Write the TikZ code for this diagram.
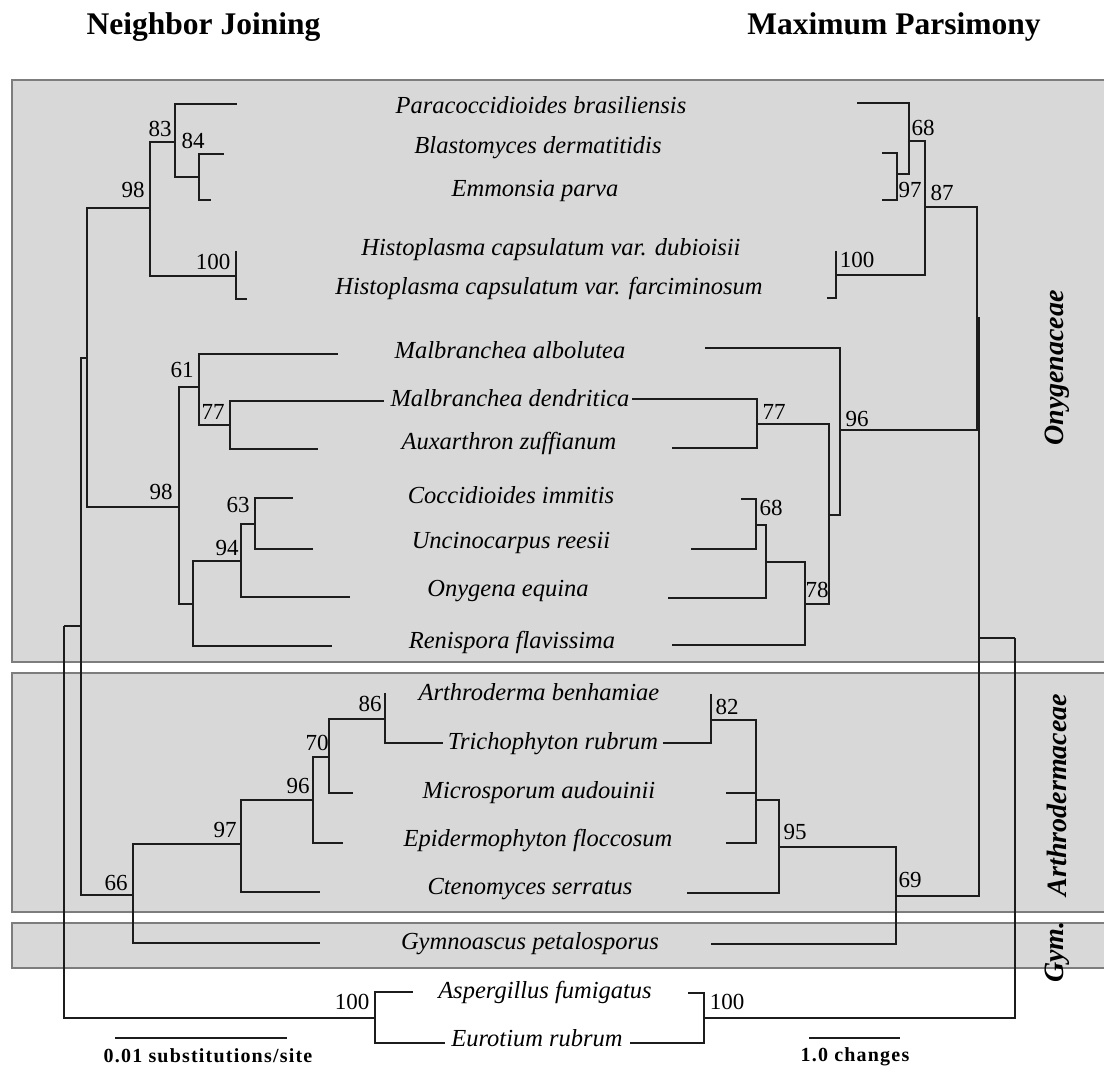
\documentclass[tikz,border=0pt]{standalone}
\usepackage{fontspec}
\setmainfont{Liberation Serif}
\newfontfamily\scalefnt{Liberation Serif}[LetterSpace=6]
\definecolor{boxfill}{RGB}{216,216,216}
\definecolor{boxline}{RGB}{125,125,125}
\definecolor{treeline}{RGB}{28,28,28}
\begin{document}
\begin{tikzpicture}[x=1pt,y=-1pt,
  br/.style={line width=2.4pt, draw=treeline, line join=miter},
  taxon/.style={font=\fontsize{24.5}{26}\selectfont\itshape, anchor=base, inner sep=0},
  bs/.style={font=\fontsize{23}{24}\selectfont, inner sep=0},
  hdr/.style={font=\fontsize{31.5}{34}\selectfont\bfseries, anchor=base, inner sep=0},
  fam/.style={font=\fontsize{28}{30}\selectfont\bfseries\itshape, rotate=90, inner sep=0},
  famBox/.style={fill=boxfill, draw=boxline, line width=1.4pt},
  scl/.style={font=\fontsize{20}{22}\selectfont\scalefnt\bfseries, inner sep=0}
]
\useasboundingbox (0,0) rectangle (1104,1066);
\fill[white] (0,0) rectangle (1104,1066);

% family boxes
\draw[famBox] (12,80) rectangle (1110,662);
\draw[famBox] (12,673) rectangle (1110,912);
\draw[famBox] (12,923) rectangle (1110,968);

% headers
\node[hdr] (hNJ) at (203.5,34) {Neighbor Joining};
\node[hdr] (hMP) at (894,34) {Maximum Parsimony};

% family labels
\node[fam] (fOny) at (1057,368) {Onygenaceae};
\node[fam] (fArt) at (1057,795) {Arthrodermaceae};
\node[fam] (fGym) at (1057,952) {Gym.};

% taxa
\node[taxon] (tPara) at (541,113) {Paracoccidioides brasiliensis};
\node[taxon] (tBlas) at (538,153) {Blastomyces dermatitidis};
\node[taxon] (tEmmo) at (535,196) {Emmonsia parva};
\node[taxon] (tHisD) at (551,255) {Histoplasma capsulatum var. dubioisii};
\node[taxon] (tHisF) at (549,294) {Histoplasma capsulatum var. farciminosum};
\node[taxon] (tMalA) at (510,358) {Malbranchea albolutea};
\node[taxon] (tMalD) at (510,406) {Malbranchea dendritica};
\node[taxon] (tAuxa) at (509,449) {Auxarthron zuffianum};
\node[taxon] (tCocc) at (511,503) {Coccidioides immitis};
\node[taxon] (tUnci) at (511,548) {Uncinocarpus reesii};
\node[taxon] (tOnyg) at (508,596) {Onygena equina};
\node[taxon] (tReni) at (512,648) {Renispora flavissima};
\node[taxon] (tArth) at (539,700) {Arthroderma benhamiae};
\node[taxon] (tTric) at (553,749) {Trichophyton rubrum};
\node[taxon] (tMicr) at (539,798) {Microsporum audouinii};
\node[taxon] (tEpid) at (538,846) {Epidermophyton floccosum};
\node[taxon] (tCten) at (530,894) {Ctenomyces serratus};
\node[taxon] (tGymn) at (530,949) {Gymnoascus petalosporus};
\node[taxon] (tAspe) at (545,998) {Aspergillus fumigatus};
\node[taxon] (tEuro) at (537,1046) {Eurotium rubrum};

% ---------- Neighbor Joining tree ----------
\coordinate (R) at (64,626);
\coordinate (Na) at (81,626);
\coordinate (Nony) at (87,358);
\coordinate (N98a) at (150,208);
\coordinate (N83) at (175,142);
\coordinate (N84) at (199,177);
\coordinate (N100h) at (236,276);
\coordinate (N98b) at (179,507);
\coordinate (N61) at (199,387);
\coordinate (N77) at (230,425);
\coordinate (Nlow) at (193,604);
\coordinate (N94) at (241,561);
\coordinate (N63) at (255,524);
\coordinate (N66) at (133,895);
\coordinate (N97) at (241,844);
\coordinate (N96) at (313,800);
\coordinate (N70) at (329,757);
\coordinate (N86) at (385,719);
\coordinate (Out) at (375,1018);
% leaf tips
\coordinate (lPara) at (237,104);
\coordinate (lBlas) at (224,154);
\coordinate (lEmmo) at (211,200);
\coordinate (lHisD) at (236,251);
\coordinate (lHisF) at (247,299);
\coordinate (lMalA) at (338,354);
\coordinate (lMalD) at (384,401);
\coordinate (lAuxa) at (318,449);
\coordinate (lCocc) at (293,498);
\coordinate (lUnci) at (313,549);
\coordinate (lOnyg) at (350,597);
\coordinate (lReni) at (332,646);
\coordinate (lArth) at (385,693);
\coordinate (lTric) at (443,743);
\coordinate (lMicr) at (353,793);
\coordinate (lEpid) at (343,843);
\coordinate (lCten) at (320,892);
\coordinate (lGymn) at (320,943);
\coordinate (lAspe) at (413,992);
\coordinate (lEuro) at (445,1043);

\draw[br] (R) |- (Na) (R) |- (Out);
\draw[br] (Na) |- (Nony) (Na) |- (N66);
\draw[br] (Nony) |- (N98a) (Nony) |- (N98b);
\draw[br] (N98a) |- (N83) (N98a) |- (N100h);
\draw[br] (N83) |- (lPara) (N83) |- (N84);
\draw[br] (N84) |- (lBlas) (N84) |- (lEmmo);
\draw[br] (N100h) |- (lHisD) (N100h) |- (lHisF);
\draw[br] (N98b) |- (N61) (N98b) |- (Nlow);
\draw[br] (N61) |- (lMalA) (N61) |- (N77);
\draw[br] (N77) |- (lMalD) (N77) |- (lAuxa);
\draw[br] (Nlow) |- (N94) (Nlow) |- (lReni);
\draw[br] (N94) |- (N63) (N94) |- (lOnyg);
\draw[br] (N63) |- (lCocc) (N63) |- (lUnci);
\draw[br] (N66) |- (N97) (N66) |- (lGymn);
\draw[br] (N97) |- (N96) (N97) |- (lCten);
\draw[br] (N96) |- (N70) (N96) |- (lEpid);
\draw[br] (N70) |- (N86) (N70) |- (lMicr);
\draw[br] (N86) |- (lArth) (N86) |- (lTric);
\draw[br] (Out) |- (lAspe) (Out) |- (lEuro);

% NJ bootstrap values
\node[bs] (b83) at (160,129) {83};
\node[bs] (b84) at (193,141) {84};
\node[bs] (b98a) at (133,190) {98};
\node[bs] (b100h) at (213,262) {100};
\node[bs] (b61) at (182,370) {61};
\node[bs] (b77) at (213,412) {77};
\node[bs] (b98b) at (161,492) {98};
\node[bs] (b94) at (227,548) {94};
\node[bs] (b63) at (238,505) {63};
\node[bs] (b66) at (116,883) {66};
\node[bs] (b97) at (225,830) {97};
\node[bs] (b96) at (298,786) {96};
\node[bs] (b70) at (317,743) {70};
\node[bs] (b86) at (370,704) {86};
\node[bs] (b100o) at (352,1002) {100};

% NJ scale bar
\coordinate (sNJa) at (115,1038);
\coordinate (sNJb) at (287,1038);
\draw[line width=2pt, draw=treeline] (sNJa) -- (sNJb);
\node[scl] (sNJ) at (208,1056) {0.01 substitutions/site};

% ---------- Maximum Parsimony tree ----------
\coordinate (RM) at (1015,638);
\coordinate (NaM) at (979,638);
\coordinate (NonyM) at (977,318);
\coordinate (M87) at (925,207);
\coordinate (M68a) at (909,141);
\coordinate (M97) at (897,174);
\coordinate (M100h) at (836,275);
\coordinate (M96) at (840,430);
\coordinate (MX) at (829,515);
\coordinate (M77) at (757,424);
\coordinate (M78) at (805,604);
\coordinate (MCo) at (766,562);
\coordinate (M68b) at (756,525);
\coordinate (M69) at (896,896);
\coordinate (M95) at (779,847);
\coordinate (MPo) at (756,800);
\coordinate (M82) at (711,720);
\coordinate (OutM) at (704,1018);
% leaf tips
\coordinate (mPara) at (857,103);
\coordinate (mBlas) at (882,153);
\coordinate (mEmmo) at (882,200);
\coordinate (mHisD) at (836,251);
\coordinate (mHisF) at (827,298);
\coordinate (mMalA) at (705,348);
\coordinate (mMalD) at (632,399);
\coordinate (mAuxa) at (672,448);
\coordinate (mCocc) at (741,499);
\coordinate (mUnci) at (691,549);
\coordinate (mOnyg) at (668,598);
\coordinate (mReni) at (672,645);
\coordinate (mArth) at (711,694);
\coordinate (mTric) at (663,743);
\coordinate (mMicr) at (726,793);
\coordinate (mEpid) at (726,843);
\coordinate (mCten) at (687,893);
\coordinate (mGymn) at (711,944);
\coordinate (mAspe) at (688,993);
\coordinate (mEuro) at (630,1043);

\draw[br] (RM) |- (NaM) (RM) |- (OutM);
\draw[br] (NaM) |- (NonyM) (NaM) |- (M69);
\draw[br] (NonyM) |- (M87) (NonyM) |- (M96);
\draw[br] (M87) |- (M68a) (M87) |- (M100h);
\draw[br] (M68a) |- (mPara) (M68a) |- (M97);
\draw[br] (M97) |- (mBlas) (M97) |- (mEmmo);
\draw[br] (M100h) |- (mHisD) (M100h) |- (mHisF);
\draw[br] (M96) |- (mMalA) (M96) |- (MX);
\draw[br] (MX) |- (M77) (MX) |- (M78);
\draw[br] (M77) |- (mMalD) (M77) |- (mAuxa);
\draw[br] (M78) |- (MCo) (M78) |- (mReni);
\draw[br] (MCo) |- (M68b) (MCo) |- (mOnyg);
\draw[br] (M68b) |- (mCocc) (M68b) |- (mUnci);
\draw[br] (M69) |- (M95) (M69) |- (mGymn);
\draw[br] (M95) |- (MPo) (M95) |- (mCten);
\draw[br] (MPo) |- (M82) (MPo) |- (mMicr) (MPo) |- (mEpid);
\draw[br] (M82) |- (mArth) (M82) |- (mTric);
\draw[br] (OutM) |- (mAspe) (OutM) |- (mEuro);

% MP bootstrap values
\node[bs] (c68a) at (923,128) {68};
\node[bs] (c97) at (910,190) {97};
\node[bs] (c87) at (942,193) {87};
\node[bs] (c100h) at (857,260) {100};
\node[bs] (c96) at (857,419) {96};
\node[bs] (c77) at (774,412) {77};
\node[bs] (c68b) at (771,508) {68};
\node[bs] (c78) at (817,590) {78};
\node[bs] (c82) at (727,707) {82};
\node[bs] (c95) at (795,832) {95};
\node[bs] (c69) at (910,880) {69};
\node[bs] (c100o) at (727,1002) {100};

% MP scale bar
\coordinate (sMPa) at (809,1038);
\coordinate (sMPb) at (900,1038);
\draw[line width=2pt, draw=treeline] (sMPa) -- (sMPb);
\node[scl] (sMP) at (855,1057) {1.0 changes};
\end{tikzpicture}
\end{document}
